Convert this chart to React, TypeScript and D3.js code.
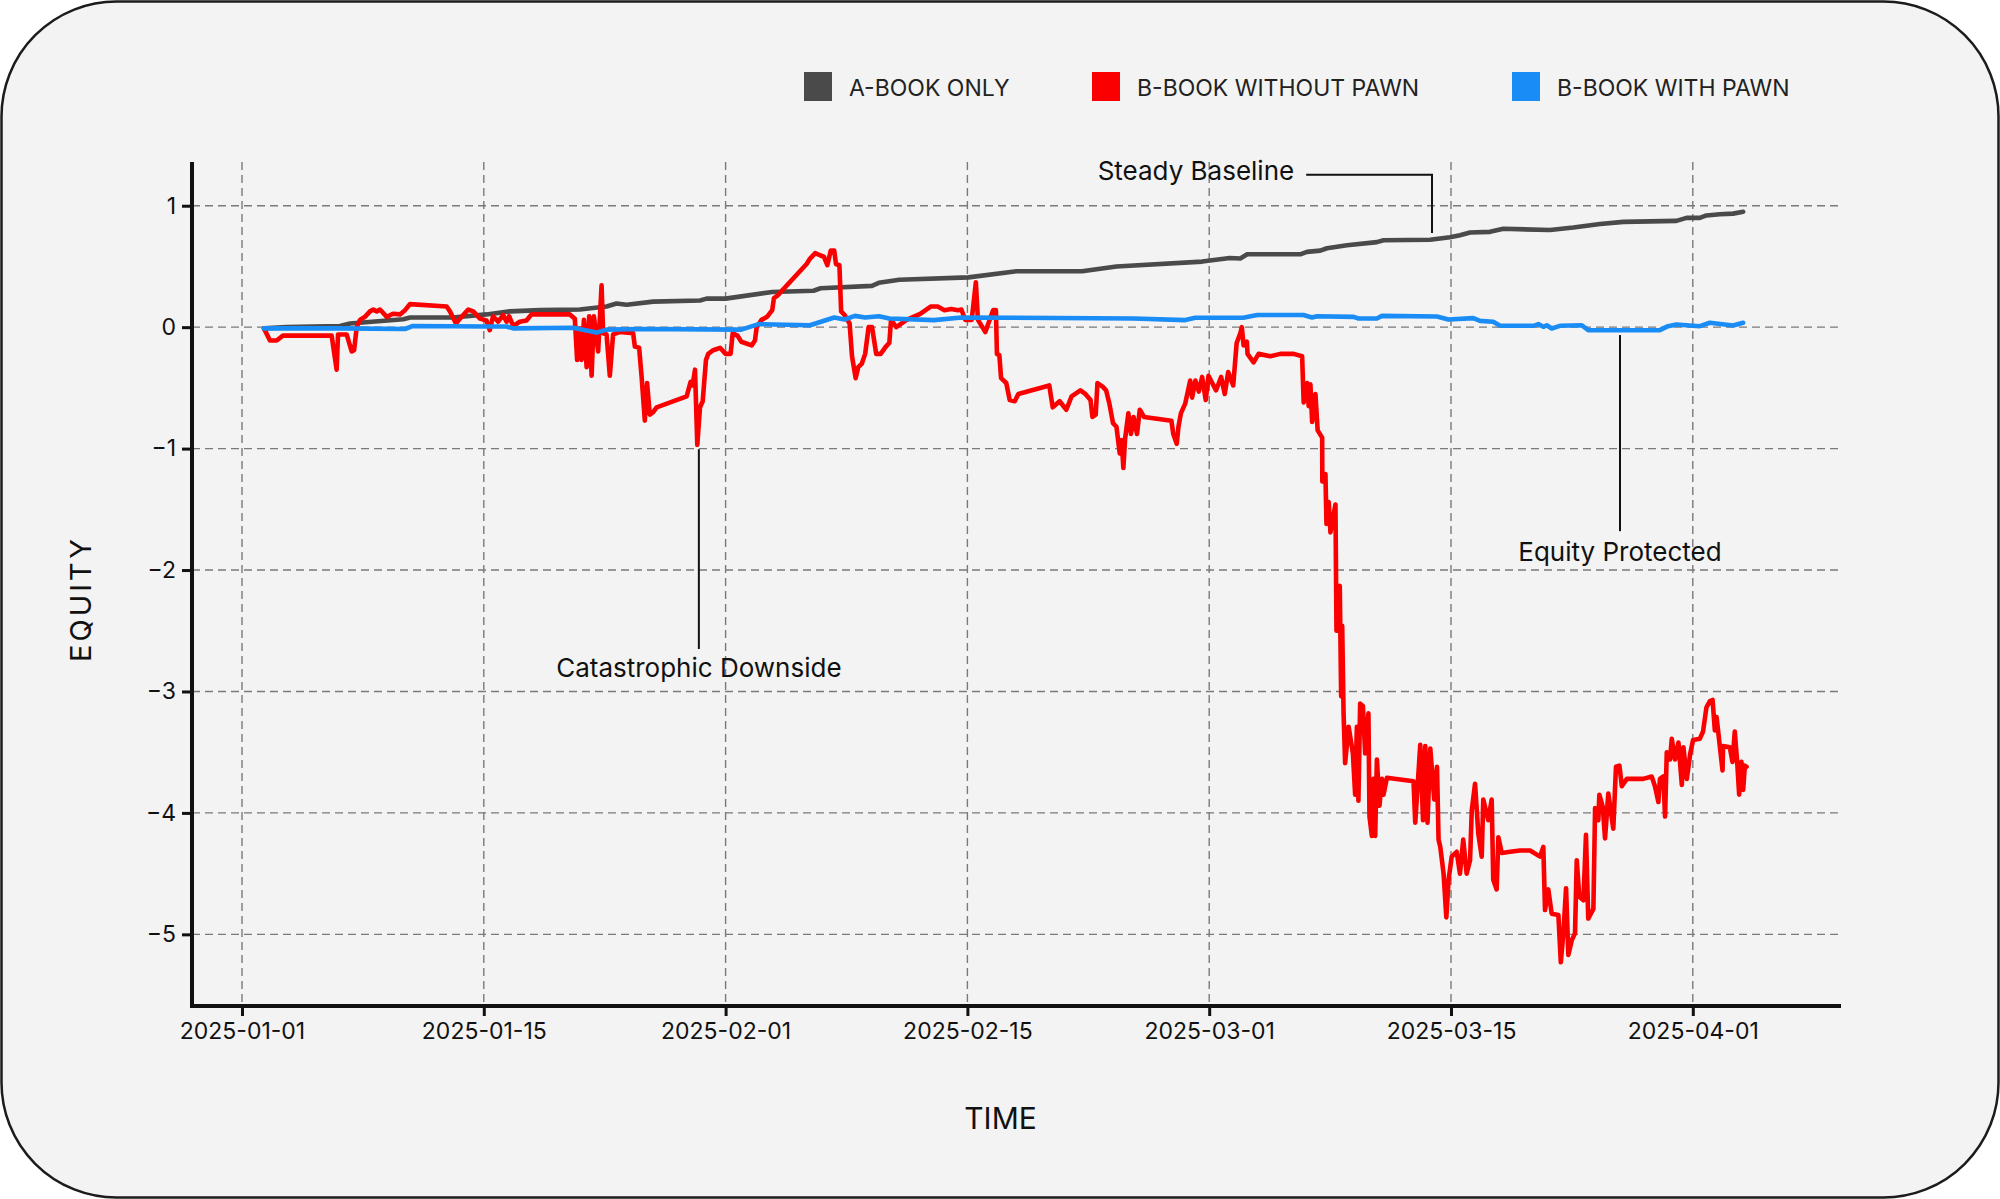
import { useEffect, useRef } from "react";
import * as d3 from "d3";

const WIDTH = 2000;
const HEIGHT = 1199;

// plot frame
const PLOT_LEFT = 192;
const PLOT_RIGHT = 1841;
const PLOT_TOP = 162;
const PLOT_BOTTOM = 1006;
const FIRST_TICK_X = 242;
const TICK_STEP = 241.8;

const FONT = "Inter, 'Noto Sans', sans-serif";

// x axis: ticks are drawn evenly spaced, so the scale is piecewise over days since 2025-01-01
const tickLabels = [
    "2025-01-01",
    "2025-01-15",
    "2025-02-01",
    "2025-02-15",
    "2025-03-01",
    "2025-03-15",
    "2025-04-01",
];
const tickDays = [0, 14, 31, 45, 59, 73, 90];
const equityTicks = [-5, -4, -3, -2, -1, 0, 1];
const equityDomain: [number, number] = [-5.59, 1.36];

const seriesNames = ["A-BOOK ONLY", "B-BOOK WITHOUT PAWN", "B-BOOK WITH PAWN"];
const seriesColors = ["#4a4a4a", "#fb0000", "#1a8cf5"];

// [day since 2025-01-01, equity]
const aBookOnly: [number, number][] = [
    [1.27, -0.01], [2.59, 0.0], [5.67, 0.01], [6.25, 0.03], [9.34, 0.065], [9.73, 0.08],
    [12.22, 0.08], [14.19, 0.105], [15.83, 0.13], [17.94, 0.14], [20.75, 0.145],
    [22.63, 0.17], [23.33, 0.195], [24.04, 0.185], [25.91, 0.21], [29.2, 0.22],
    [29.66, 0.235], [31.0, 0.235], [33.7, 0.29], [36.09, 0.3], [36.5, 0.32], [39.47, 0.34],
    [39.87, 0.365], [41.06, 0.39], [45.06, 0.41], [47.84, 0.46], [51.64, 0.46],
    [53.63, 0.5], [58.59, 0.54], [60.19, 0.57], [60.8, 0.565], [61.2, 0.6], [64.27, 0.6],
    [64.66, 0.62], [65.43, 0.63], [65.82, 0.65], [66.98, 0.675], [68.71, 0.7],
    [69.09, 0.716], [71.79, 0.72], [72.94, 0.74], [73.63, 0.757], [74.34, 0.78],
    [75.74, 0.785], [76.68, 0.81], [79.96, 0.8], [81.6, 0.82], [83.48, 0.85],
    [85.12, 0.867], [88.85, 0.875], [89.56, 0.9], [90.49, 0.9], [90.96, 0.92],
    [91.9, 0.93], [92.83, 0.935], [93.54, 0.95],
];

const bBookWithoutPawn: [number, number][] = [
    [1.27, -0.01], [1.62, -0.11], [2.01, -0.11], [2.37, -0.07], [5.19, -0.07], [5.48, -0.35],
    [5.56, -0.06], [6.06, -0.06], [6.35, -0.2], [6.49, -0.19], [6.64, 0.0], [6.83, 0.06],
    [7.12, 0.085], [7.41, 0.13], [7.6, 0.145], [7.8, 0.13], [7.99, 0.145], [8.38, 0.085],
    [8.74, 0.11], [9.15, 0.105], [9.44, 0.14], [9.73, 0.19], [11.85, 0.17], [12.04, 0.13],
    [12.39, 0.03], [12.62, 0.07], [13.1, 0.145], [13.39, 0.13], [13.78, 0.07],
    [14.19, 0.055], [14.42, -0.025], [14.65, 0.09], [15.01, 0.045], [15.36, 0.1],
    [15.6, 0.045], [15.78, 0.09], [16.06, 0.01], [16.53, 0.045], [17.0, 0.055],
    [17.35, 0.105], [20.05, 0.105], [20.4, 0.07], [20.56, -0.27], [20.75, -0.01],
    [20.87, -0.27], [21.04, 0.06], [21.23, -0.33], [21.41, 0.09], [21.58, -0.4],
    [21.74, 0.09], [22.04, -0.2], [22.28, 0.345], [22.39, -0.05], [22.63, -0.06],
    [22.86, -0.4], [23.09, -0.06], [23.56, -0.04], [24.5, -0.05], [24.62, -0.16],
    [24.92, -0.17], [25.09, -0.4], [25.32, -0.77], [25.48, -0.46], [25.67, -0.72],
    [25.91, -0.7], [26.15, -0.66], [28.26, -0.57], [28.54, -0.45], [28.68, -0.48],
    [28.85, -0.35], [29.01, -0.97], [29.2, -0.66], [29.39, -0.61], [29.62, -0.27],
    [29.78, -0.22], [30.13, -0.19], [30.61, -0.17], [31.0, -0.22], [31.29, -0.22],
    [31.41, -0.05], [31.69, -0.07], [31.91, -0.12], [32.51, -0.15], [32.7, -0.11],
    [32.8, 0.0], [33.08, 0.06], [33.4, 0.085], [33.7, 0.14], [33.8, 0.24], [34.0, 0.26],
    [35.69, 0.52], [35.89, 0.565], [36.19, 0.61], [36.5, 0.59], [36.69, 0.58],
    [36.89, 0.51], [37.09, 0.63], [37.29, 0.63], [37.39, 0.52], [37.59, 0.51],
    [37.69, 0.13], [37.89, 0.1], [38.18, 0.03], [38.32, -0.24], [38.53, -0.42],
    [38.68, -0.33], [38.89, -0.3], [39.08, -0.22], [39.28, 0.0], [39.48, 0.0],
    [39.72, -0.22], [39.98, -0.22], [40.28, -0.16], [40.48, -0.13], [40.58, 0.06],
    [40.88, 0.0], [41.48, 0.06], [42.27, 0.11], [42.87, 0.17], [43.28, 0.17],
    [43.67, 0.14], [44.06, 0.15], [44.46, 0.14], [44.65, 0.145], [44.88, 0.06],
    [45.25, 0.06], [45.49, 0.37], [45.61, 0.06], [46.04, -0.04], [46.25, 0.045],
    [46.49, 0.14], [46.65, 0.14], [46.71, -0.22], [46.85, -0.23], [46.95, -0.42],
    [47.25, -0.46], [47.45, -0.6], [47.74, -0.61], [47.95, -0.55], [49.74, -0.48],
    [49.94, -0.66], [50.34, -0.61], [50.73, -0.68], [51.03, -0.57], [51.54, -0.52],
    [51.83, -0.55], [52.13, -0.6], [52.24, -0.74], [52.43, -0.72], [52.53, -0.46],
    [52.83, -0.49], [53.03, -0.52], [53.22, -0.63], [53.43, -0.79], [53.63, -0.82],
    [53.82, -1.04], [53.93, -0.93], [54.03, -1.16], [54.13, -0.92], [54.32, -0.71],
    [54.47, -0.88], [54.62, -0.74], [54.82, -0.88], [54.98, -0.68], [55.23, -0.74],
    [56.81, -0.77], [56.92, -0.88], [57.12, -0.96], [57.22, -0.82], [57.36, -0.71],
    [57.61, -0.63], [57.9, -0.44], [58.01, -0.58], [58.2, -0.44], [58.4, -0.53],
    [58.59, -0.41], [58.8, -0.6], [58.96, -0.4], [59.1, -0.44], [59.4, -0.52],
    [59.69, -0.41], [59.9, -0.55], [60.1, -0.37], [60.39, -0.48], [60.59, -0.13],
    [60.8, -0.05], [60.89, 0.0], [60.99, -0.15], [61.18, -0.12], [61.22, -0.22],
    [61.57, -0.29], [61.86, -0.22], [62.54, -0.24], [63.12, -0.22], [63.89, -0.22],
    [64.38, -0.24], [64.47, -0.62], [64.67, -0.46], [64.76, -0.65], [64.86, -0.47],
    [64.96, -0.78], [65.15, -0.55], [65.28, -0.85], [65.54, -0.91], [65.55, -1.27],
    [65.73, -1.21], [65.79, -1.62], [65.92, -1.44], [66.02, -1.69], [66.31, -1.46],
    [66.37, -2.5], [66.56, -2.13], [66.64, -3.04], [66.7, -2.46], [66.78, -3.18],
    [66.87, -3.59], [67.07, -3.29], [67.32, -3.51], [67.45, -3.85], [67.55, -3.29],
    [67.64, -3.9], [67.74, -3.1], [67.9, -3.12], [68.03, -3.51], [68.22, -3.18],
    [68.28, -4.03], [68.42, -4.19], [68.51, -3.72], [68.61, -4.19], [68.71, -3.56],
    [68.86, -3.94], [69.0, -3.72], [69.09, -3.85], [69.29, -3.71], [70.83, -3.74],
    [70.93, -4.08], [71.22, -3.44], [71.38, -4.06], [71.51, -3.45], [71.64, -4.08],
    [71.8, -3.47], [72.03, -3.89], [72.19, -3.62], [72.28, -4.22], [72.38, -4.28],
    [72.57, -4.5], [72.73, -4.86], [72.86, -4.55], [73.05, -4.36], [73.4, -4.32],
    [73.63, -4.5], [73.86, -4.22], [74.1, -4.5], [74.34, -4.39], [74.46, -3.98],
    [74.69, -3.76], [74.92, -4.17], [75.16, -4.36], [75.27, -3.89], [75.62, -4.06],
    [75.86, -3.89], [75.97, -4.55], [76.21, -4.63], [76.33, -4.2], [76.57, -4.33],
    [77.15, -4.32], [77.85, -4.31], [78.56, -4.31], [79.26, -4.36], [79.49, -4.28],
    [79.61, -4.8], [79.84, -4.63], [80.08, -4.83], [80.55, -4.84], [80.72, -5.23],
    [80.9, -4.99], [81.09, -4.62], [81.25, -5.17], [81.49, -5.05], [81.72, -4.99],
    [81.84, -4.39], [82.02, -4.69], [82.31, -4.72], [82.49, -4.18], [82.65, -4.87],
    [83.01, -4.79], [83.13, -3.96], [83.36, -4.06], [83.43, -3.85], [83.67, -3.95],
    [83.83, -4.21], [84.06, -3.84], [84.41, -4.13], [84.6, -3.62], [84.84, -3.61],
    [85.01, -3.78], [85.36, -3.72], [86.52, -3.72], [87.11, -3.7], [87.34, -3.78],
    [87.58, -3.91], [87.69, -3.72], [87.93, -3.7], [88.05, -4.03], [88.17, -3.5],
    [88.4, -3.56], [88.52, -3.39], [88.75, -3.56], [88.99, -3.42], [89.23, -3.77],
    [89.34, -3.46], [89.58, -3.72], [89.82, -3.51], [90.02, -3.4], [90.49, -3.39],
    [90.72, -3.33], [90.96, -3.13], [91.2, -3.08], [91.39, -3.07], [91.55, -3.32],
    [91.67, -3.21], [91.9, -3.45], [92.09, -3.65], [92.13, -3.45], [92.6, -3.46],
    [92.79, -3.58], [92.95, -3.33], [93.12, -3.58], [93.26, -3.85], [93.42, -3.58],
    [93.54, -3.81], [93.66, -3.61], [93.78, -3.62],
];

const bBookWithPawn: [number, number][] = [
    [1.27, -0.01], [5.67, -0.01], [9.44, -0.015], [9.9, 0.01], [14.19, 0.005],
    [15.6, 0.005], [16.06, -0.01], [20.28, -0.005], [21.92, -0.045], [22.63, -0.02],
    [24.96, -0.015], [31.91, -0.02], [32.91, 0.025], [35.89, 0.016], [37.29, 0.08],
    [37.89, 0.063], [38.49, 0.093], [39.08, 0.08], [39.88, 0.09], [40.48, 0.071],
    [43.07, 0.058], [44.65, 0.08], [54.61, 0.071], [57.62, 0.058], [58.19, 0.077],
    [60.97, 0.077], [61.78, 0.1], [64.46, 0.1], [64.95, 0.08], [65.24, 0.09],
    [67.36, 0.085], [67.65, 0.071], [68.71, 0.071], [69.0, 0.093], [72.18, 0.088],
    [72.85, 0.063], [74.57, 0.074], [75.04, 0.052], [75.97, 0.044], [76.45, 0.011],
    [78.79, 0.011], [79.14, 0.025], [79.49, 0.003], [79.73, 0.016], [80.08, -0.011],
    [80.66, 0.011], [82.19, 0.016], [82.65, -0.025], [87.68, -0.025], [88.26, 0.008],
    [88.85, 0.022], [90.49, 0.008], [91.2, 0.036], [92.83, 0.014], [93.54, 0.036],
];

const seriesData = [aBookOnly, bBookWithoutPawn, bBookWithPawn];

type Callout = {
    label: string;
    day: number;
    value: number;
    endValue: number;
    textDay: number;
    textValue: number;
    elbow: boolean;
};

const callouts: Callout[] = [
    { label: "Steady Baseline", day: 71.9, value: 0.775, endValue: 1.254, textDay: 63.92, textValue: 1.254, elbow: true },
    { label: "Catastrophic Downside", day: 29.12, value: -1.005, endValue: -2.65, textDay: 29.12, textValue: -2.8, elbow: false },
    { label: "Equity Protected", day: 84.88, value: -0.065, endValue: -1.68, textDay: 84.88, textValue: -1.85, elbow: false },
];

const legendX = [804, 1092, 1512];

const App = () => {
    const xAxisRef = useRef<SVGGElement>(null);
    const yAxisRef = useRef<SVGGElement>(null);

    const x = d3
        .scaleLinear()
        .domain(tickDays)
        .range(tickDays.map((_, i) => FIRST_TICK_X + i * TICK_STEP));
    const y = d3.scaleLinear().domain(equityDomain).range([PLOT_BOTTOM, PLOT_TOP]);

    const line = d3
        .line<[number, number]>()
        .x((d) => x(d[0]))
        .y((d) => y(d[1]));

    useEffect(() => {
        if (!xAxisRef.current || !yAxisRef.current) return;

        const gx = d3.select(xAxisRef.current);
        gx.call(
            d3
                .axisBottom(x)
                .tickValues(tickDays)
                .tickFormat((_, i) => tickLabels[i])
                .tickSize(10)
                .tickSizeOuter(0)
                .tickPadding(7)
        );
        gx.select(".domain").remove();
        gx.selectAll(".tick line").attr("stroke", "#111").attr("stroke-width", 3);
        gx.selectAll(".tick text")
            .attr("fill", "#111")
            .style("font-family", FONT)
            .style("font-size", "23px");

        const gy = d3.select(yAxisRef.current);
        gy.call(
            d3
                .axisLeft(y)
                .tickValues(equityTicks)
                .tickFormat(d3.format("d"))
                .tickSize(10)
                .tickSizeOuter(0)
                .tickPadding(6)
        );
        gy.select(".domain").remove();
        gy.selectAll(".tick line").attr("stroke", "#111").attr("stroke-width", 3);
        gy.selectAll(".tick text")
            .attr("fill", "#111")
            .style("font-family", FONT)
            .style("font-size", "23px");

        return () => {
            gx.selectAll("*").remove();
            gy.selectAll("*").remove();
        };
        // eslint-disable-next-line react-hooks/exhaustive-deps
    }, []);

    return (
        <svg
            width={WIDTH}
            height={HEIGHT}
            viewBox={`0 0 ${WIDTH} ${HEIGHT}`}
            style={{ position: "absolute", left: 0, top: 0, background: "#fff" }}
        >
            <rect
                x={1.5}
                y={1.5}
                width={WIDTH - 3}
                height={HEIGHT - 3}
                rx={115}
                fill="#f3f3f3"
                stroke="#1c1c1c"
                strokeWidth={2.5}
            />

            {/* grid */}
            <g stroke="#7a7a7a" strokeWidth={1.4} strokeDasharray="8,5" fill="none">
                {tickDays.map((d) => (
                    <line key={`v${d}`} x1={x(d)} x2={x(d)} y1={PLOT_TOP} y2={PLOT_BOTTOM} />
                ))}
                {equityTicks.map((v) => (
                    <line key={`h${v}`} x1={PLOT_LEFT} x2={PLOT_RIGHT} y1={y(v)} y2={y(v)} />
                ))}
            </g>

            {/* series */}
            <g fill="none" strokeWidth={4.6} strokeLinejoin="round" strokeLinecap="round">
                {seriesData.map((s, i) => (
                    <path key={seriesNames[i]} d={line(s) ?? ""} stroke={seriesColors[i]} />
                ))}
            </g>

            {/* spines */}
            <line x1={PLOT_LEFT} x2={PLOT_LEFT} y1={PLOT_TOP} y2={PLOT_BOTTOM + 1} stroke="#111" strokeWidth={4} />
            <line x1={PLOT_LEFT - 2} x2={PLOT_RIGHT} y1={PLOT_BOTTOM} y2={PLOT_BOTTOM} stroke="#111" strokeWidth={4} />

            <g ref={xAxisRef} transform={`translate(0,${PLOT_BOTTOM})`} />
            <g ref={yAxisRef} transform={`translate(${PLOT_LEFT},0)`} />

            {/* callouts */}
            <g fontFamily={FONT} fontSize={26} fill="#111">
                {callouts.map((c) =>
                    c.elbow ? (
                        <g key={c.label}>
                            <path
                                d={`M${x(c.textDay) + 12},${y(c.textValue)}H${x(c.day)}V${y(c.value)}`}
                                fill="none"
                                stroke="#111"
                                strokeWidth={2}
                            />
                            <text x={x(c.textDay)} y={y(c.textValue) - 4} textAnchor="end" dominantBaseline="central">
                                {c.label}
                            </text>
                        </g>
                    ) : (
                        <g key={c.label}>
                            <line
                                x1={x(c.day)}
                                x2={x(c.day)}
                                y1={y(c.value)}
                                y2={y(c.endValue)}
                                stroke="#111"
                                strokeWidth={2}
                            />
                            <text x={x(c.textDay)} y={y(c.textValue)} textAnchor="middle" dominantBaseline="central">
                                {c.label}
                            </text>
                        </g>
                    )
                )}
            </g>

            {/* legend */}
            <g fontFamily={FONT} fontSize={23} fill="#222">
                {seriesNames.map((name, i) => (
                    <g key={name} transform={`translate(${legendX[i]},72)`}>
                        <rect width={28} height={29} fill={seriesColors[i]} />
                        <text x={45} y={15.5} dominantBaseline="central">
                            {name}
                        </text>
                    </g>
                ))}
            </g>

            {/* axis titles */}
            <text
                x={(PLOT_LEFT + PLOT_RIGHT) / 2 - 16}
                y={1118}
                textAnchor="middle"
                dominantBaseline="central"
                fontFamily={FONT}
                fontSize={30}
                fill="#111"
            >
                TIME
            </text>
            <text
                transform={`translate(80,${(PLOT_TOP + PLOT_BOTTOM) / 2 + 15}) rotate(-90)`}
                textAnchor="middle"
                dominantBaseline="central"
                fontFamily={FONT}
                fontSize={29}
                letterSpacing={3}
                fill="#111"
            >
                EQUITY
            </text>
        </svg>
    );
};

export default App;
